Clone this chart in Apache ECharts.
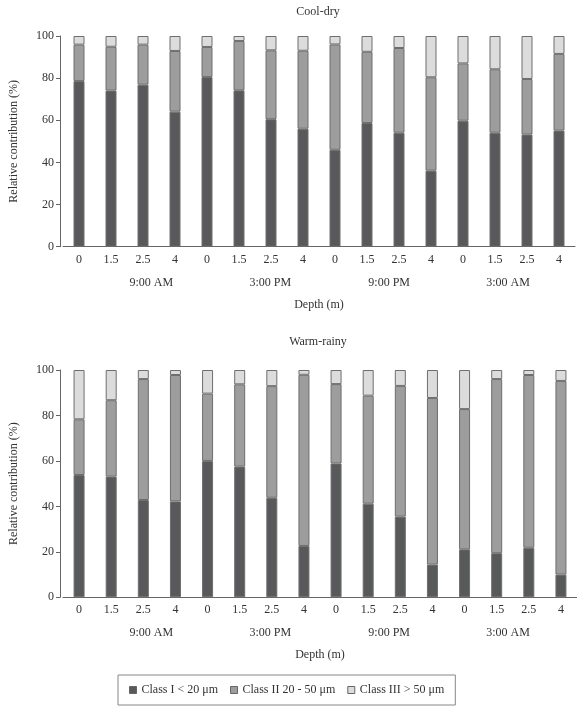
<!DOCTYPE html>
<html>
<head>
<meta charset="utf-8">
<script src="https://cdn.jsdelivr.net/npm/echarts@6/dist/echarts.min.js"></script>
<style>
  html, body { margin: 0; padding: 0; background: #fff; }
  #chart { width: 577px; height: 708px; }
</style>
</head>
<body>
<div id="chart"></div>
<script>
const depths = ['0', '1.5', '2.5', '4', '0', '1.5', '2.5', '4', '0', '1.5', '2.5', '4', '0', '1.5', '2.5', '4'];
const times = ['9:00 AM', '3:00 PM', '9:00 PM', '3:00 AM'];
const yTicks = [0, 20, 40, 60, 80, 100];
const classNames = ['Class I < 20 μm', 'Class II 20 - 50 μm', 'Class III > 50 μm'];

// Cool-dry
const coolClassI = [78.6, 74.1, 76.9, 64.1, 80.5, 74.2, 60.5, 56, 46, 58.7, 54.1, 36.1, 59.8, 54.1, 53.2, 55.1];
const coolClassII = [17.3, 20.8, 19, 28.8, 14.3, 23.4, 32.7, 37, 50, 33.8, 40.2, 44.3, 27.2, 30.1, 26.4, 36.4];
const coolClassIII = [4.1, 5.1, 4.1, 7.1, 5.2, 2.4, 6.8, 7, 4, 7.5, 5.7, 19.6, 13, 15.8, 20.4, 8.5];

// Warm-rainy
const warmClassI = [53.8, 53.1, 42.8, 42.2, 60, 57.5, 43.8, 22.6, 58.9, 41.2, 35.5, 14.4, 21.1, 19.4, 21.8, 10];
const warmClassII = [24.5, 33.6, 53.2, 55.6, 29.6, 36.2, 49.1, 75.3, 34.9, 47.5, 57.5, 73.3, 61.7, 76.6, 76, 85.2];
const warmClassIII = [21.7, 13.3, 4, 2.2, 10.4, 6.3, 7.1, 2.1, 6.2, 11.3, 7, 12.3, 17.2, 4, 2.2, 4.8];

const colors = ['#58595b', '#9d9d9d', '#dcdcdc'];
const font = 'Liberation Serif';
const txt = '#333';
const axisCol = '#666';

const myChart = echarts.init(document.getElementById('chart'));

const mainX = (grid) => ({
  type: 'category', gridIndex: grid, data: depths,
  axisLine: { lineStyle: { color: axisCol } },
  axisTick: { length: 4, lineStyle: { color: axisCol } },
  axisLabel: { color: txt, fontFamily: font, fontSize: 12, margin: 7 },
  name: 'Depth (m)', nameLocation: 'middle', nameGap: 52,
  nameTextStyle: { color: txt, fontFamily: font, fontSize: 12 }
});

const timeX = (grid) => ({
  type: 'category', gridIndex: grid, data: times, position: 'bottom',
  axisLine: { show: false }, axisTick: { show: false },
  axisLabel: { color: txt, fontFamily: font, fontSize: 12, margin: 30 }
});

const mainY = (grid) => ({
  type: 'value', gridIndex: grid, min: 0, max: 100, interval: 20, offset: 3,
  axisLine: { show: true, lineStyle: { color: axisCol } },
  axisTick: { show: true, length: 4, lineStyle: { color: axisCol } },
  splitLine: { show: false },
  axisLabel: { color: txt, fontFamily: font, fontSize: 12, margin: 6 },
  name: 'Relative contribution (%)', nameLocation: 'middle', nameGap: 40,
  nameTextStyle: { color: txt, fontFamily: font, fontSize: 12 }
});

const hiddenY = (grid) => ({ type: 'value', gridIndex: grid, show: false });

const mkSeries = (vals, name, idx, grid, stack) => ({
  name: name, type: 'bar', stack: stack,
  xAxisIndex: grid, yAxisIndex: grid,
  barWidth: 11,
  itemStyle: { color: colors[idx], borderColor: '#6e6e6e', borderWidth: 1 },
  data: vals
});

const option = {
  animation: false,
  textStyle: { fontFamily: font },
  title: [
    { text: 'Cool-dry', left: 313, top: 1, textAlign: 'center',
      textStyle: { color: txt, fontFamily: font, fontSize: 12, fontWeight: 'normal' } },
    { text: 'Warm-rainy', left: 313, top: 331, textAlign: 'center',
      textStyle: { color: txt, fontFamily: font, fontSize: 12, fontWeight: 'normal' } }
  ],
  grid: [
    { left: 59, width: 516, top: 36, height: 210.7 },
    { left: 56.5, width: 520.5, top: 370, height: 227.3 },
    { left: 91.9, width: 475.6, top: 36, height: 210.7 },
    { left: 91.9, width: 475.6, top: 370, height: 227.3 }
  ],
  xAxis: [mainX(0), mainX(1), timeX(2), timeX(3)],
  yAxis: [mainY(0), mainY(1), hiddenY(2), hiddenY(3)],
  legend: {
    data: classNames,
    bottom: 3, left: 118,
    icon: 'rect',
    itemWidth: 7, itemHeight: 7, itemGap: 12,
    borderColor: '#888', borderWidth: 1,
    padding: [9, 11, 9, 11],
    textStyle: { color: txt, fontFamily: font, fontSize: 12 },
    itemStyle: { borderColor: '#666', borderWidth: 1 }
  },
  series: [
    mkSeries(coolClassI, classNames[0], 0, 0, 'cool'),
    mkSeries(coolClassII, classNames[1], 1, 0, 'cool'),
    mkSeries(coolClassIII, classNames[2], 2, 0, 'cool'),
    mkSeries(warmClassI, classNames[0], 0, 1, 'warm'),
    mkSeries(warmClassII, classNames[1], 1, 1, 'warm'),
    mkSeries(warmClassIII, classNames[2], 2, 1, 'warm')
  ]
};

myChart.setOption(option);
</script>
</body>
</html>
